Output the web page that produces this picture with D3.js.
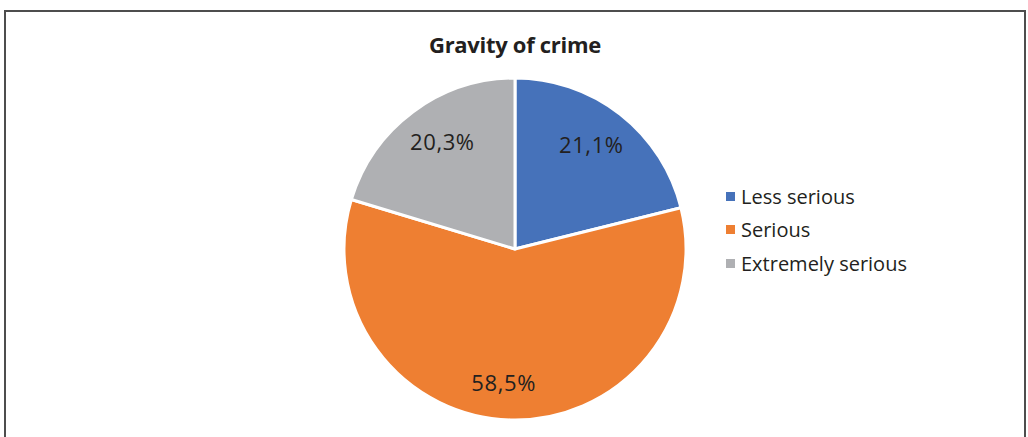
<!DOCTYPE html>
<html><head><meta charset="utf-8">
<script src="https://cdn.jsdelivr.net/npm/d3@7"></script>
<style>html,body{margin:0;padding:0;background:#fff;}svg{display:block;}</style>
</head><body>
<svg id="chart" width="1028" height="437"></svg>
<script>
const categories = ["Less serious", "Serious", "Extremely serious"];
const values = [21.1, 58.5, 20.3];
const labels = ["21,1%", "58,5%", "20,3%"];
const colors = ["#4672BA", "#EE7F32", "#AFB0B3"];
const title = "Gravity of crime";

const svg = d3.select("#chart");
const font = "'Open Sans', 'Noto Sans', sans-serif";

svg.append("rect").attr("x", 5).attr("y", 11).attr("width", 1020).attr("height", 440)
  .attr("fill", "#fff").attr("stroke", "#4d4d4d").attr("stroke-width", 2);

svg.append("text").attr("x", 515).attr("y", 53).attr("text-anchor", "middle")
  .attr("font-family", font).attr("font-weight", "bold").attr("font-size", 22)
  .attr("letter-spacing", "-0.3px")
  .attr("fill", "#231f20").text(title);

const cx = 515, cy = 249, r = 171;
const pie = d3.pie().sort(null).value(d => d)(values);
const arc = d3.arc().innerRadius(0).outerRadius(r);
const labelArc = d3.arc().innerRadius(132).outerRadius(132);
const labelShift = [[-5, 0], [-8, 2], [6, -1]];
const g = svg.append("g").attr("transform", `translate(${cx},${cy})`);
g.selectAll("path").data(pie).join("path")
  .attr("d", arc).attr("fill", (d, i) => colors[i])
  .attr("stroke", "#fff").attr("stroke-width", 3).attr("stroke-linejoin", "round");
g.selectAll("text").data(pie).join("text")
  .attr("transform", (d, i) => { const c = labelArc.centroid(d); return `translate(${c[0] + labelShift[i][0]},${c[1] + labelShift[i][1]})`; })
  .attr("text-anchor", "middle").attr("dy", "0.35em")
  .attr("font-family", font).attr("font-size", 22).attr("letter-spacing", "0.6px")
  .attr("fill", "#231f20")
  .text((d, i) => labels[i]);

const leg = svg.append("g");
const legY = [197, 230, 264];
categories.forEach((c, i) => {
  leg.append("rect").attr("x", 726).attr("y", legY[i] - 5).attr("width", 9).attr("height", 9).attr("fill", colors[i]);
  leg.append("text").attr("x", 741).attr("y", legY[i]).attr("dy", "0.35em")
    .attr("font-family", font).attr("font-size", 20).attr("fill", "#231f20").text(c);
});
</script>
</body></html>
